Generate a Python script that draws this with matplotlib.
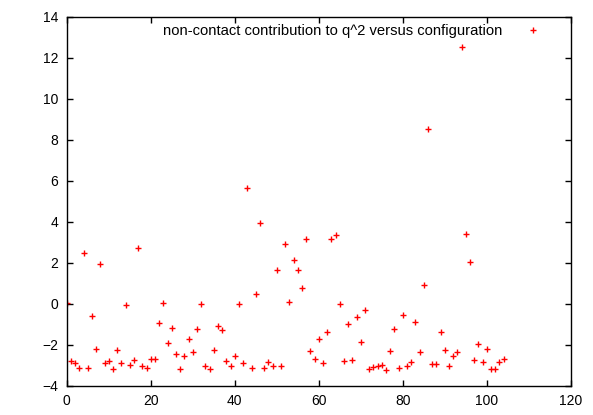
import numpy as np
import matplotlib
matplotlib.use('Agg')
import matplotlib.pyplot as plt

plt.rcParams['font.family'] = ['Liberation Sans', 'DejaVu Sans']

config = np.arange(0, 105)
q2_noncontact = [
    0.05, -2.78, -2.89, -3.14, 2.49, -3.14, -0.59, -2.23, 1.92, -2.89,
    -2.78, -3.19, -2.24, -2.88, -0.05, -3.01, -2.73, 2.72, -3.04, -3.12,
    -2.68, -2.68, -0.93, 0.03, -1.93, -1.19, -2.44, -3.20, -2.54, -1.71,
    -2.37, -1.25, -0.03, -3.04, -3.17, -2.24, -1.07, -1.28, -2.81, -3.04,
    -2.55, -0.03, -2.91, 5.62, -3.15, 0.46, 3.92, -3.15, -2.83, -3.06,
    1.64, -3.06, 2.93, 0.07, 2.11, 1.66, 0.78, 3.15, -2.29, -2.71,
    -1.72, -2.89, -1.37, 3.17, 3.33, -0.03, -2.78, -0.98, -2.73, -0.63,
    -1.89, -0.31, -3.19, -3.11, -3.06, -2.99, -3.22, -2.29, -1.22, -3.15,
    -0.55, -3.06, -2.86, -0.88, -2.34, 0.91, 8.52, -2.94, -2.94, -1.37,
    -2.24, -3.06, -2.57, -2.34, 12.52, 3.38, 2.02, -2.76, -1.95, -2.85,
    -2.20, -3.19, -3.19, -2.85, -2.72,
]
label = 'non-contact contribution to q^2 versus configuration'

fig = plt.figure(figsize=(5.93, 4.15), dpi=100)
ax = fig.add_axes([0.1125, 0.0706, 0.85, 0.8892])

ax.plot(config, q2_noncontact, linestyle='none', marker='+', color='#ff0000',
        markersize=5, markeredgewidth=1.0, label=label)

ax.set_xlim(0, 120)
ax.set_ylim(-4, 14)
ax.set_xticks(np.arange(0, 121, 20))
ax.set_yticks(np.arange(-4, 15, 2))
ax.tick_params(direction='in', top=True, right=True, length=4, width=1,
               labelsize=10, pad=6)
for s in ax.spines.values():
    s.set_linewidth(1)

ax.legend(loc='upper right', bbox_to_anchor=(0.955, 0.98), frameon=False,
          markerfirst=False, handlelength=2, handletextpad=1.1,
          borderpad=0, borderaxespad=0, fontsize=10.6)

fig.savefig('out.png', dpi=100)
